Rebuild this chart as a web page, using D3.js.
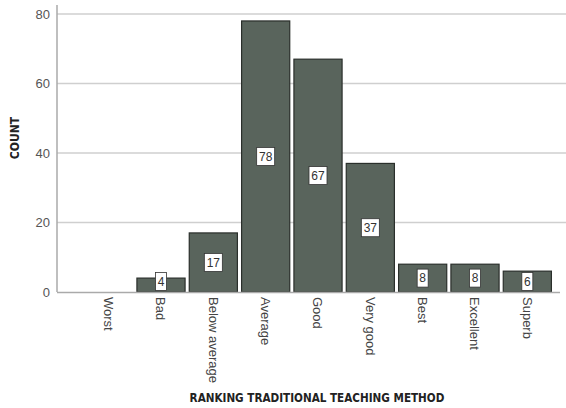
<!DOCTYPE html>
<html><head><meta charset="utf-8">
<script src="https://cdn.jsdelivr.net/npm/d3@7"></script>
<style>body{margin:0;background:#fff}svg{display:block}</style>
</head><body>
<svg id="c" width="566" height="408"></svg>
<script>
const categories = ["Worst","Bad","Below average","Average","Good","Very good","Best","Excellent","Superb"];
const counts = [0,4,17,78,67,37,8,8,6];
const yTicks = [0,20,40,60,80];

const svg = d3.select("#c");
const x = d3.scaleBand().domain(categories).range([82.5,553.5]).paddingInner(0.08).paddingOuter(0.04);
const y = d3.scaleLinear().domain([0,80]).range([292,14]);

// grid
svg.append("g").selectAll("line").data(yTicks.filter(d=>d>0)).join("line")
  .attr("x1",57).attr("x2",566).attr("y1",d=>y(d)).attr("y2",d=>y(d))
  .attr("stroke","#cfcfcf").attr("stroke-width",1.5);

// y axis
const ya = svg.append("g").attr("transform","translate(57,0)").call(d3.axisLeft(y).tickValues(yTicks).tickSize(0).tickPadding(7));
ya.select(".domain").attr("stroke","#aaa").attr("stroke-width",1.5).attr("d","M0,5V292");
ya.selectAll("text").attr("font-family","Arial, Liberation Sans, sans-serif").attr("font-size",13).attr("fill","#555");

// bars
svg.append("g").selectAll("rect").data(counts).join("rect")
  .attr("x",(d,i)=>x(categories[i])).attr("width",x.bandwidth())
  .attr("y",d=>y(d)).attr("height",d=>y(0)-y(d))
  .attr("fill","#59645c").attr("stroke","#2a2f2b").attr("stroke-width",1.2)
  .attr("display",d=>d>0?null:"none");

// x baseline
svg.append("line").attr("x1",57).attr("x2",560).attr("y1",292.5).attr("y2",292.5).attr("stroke","#aaa").attr("stroke-width",1.5);

// value labels
const lab = svg.append("g").selectAll("g").data(counts.map((v,i)=>({v,c:categories[i]})).filter(d=>d.v>0)).join("g")
  .attr("transform",d=>`translate(${x(d.c)+x.bandwidth()/2},${Math.min((y(d.v)+y(0))/2, y(0)-10.5)})`);
lab.append("rect").attr("x",d=>d.v>=10?-9:-5.5).attr("width",d=>d.v>=10?18:11)
  .attr("y",-9).attr("height",18).attr("fill","#fff").attr("stroke","#333").attr("stroke-width",0.8);
lab.append("text").attr("text-anchor","middle").attr("dy","0.36em")
  .attr("font-family","Arial, Liberation Sans, sans-serif").attr("font-size",12).attr("fill","#333").text(d=>d.v);

// x category labels
const xa = svg.append("g").attr("transform","translate(0,292)").call(d3.axisBottom(x).tickSize(0).tickPadding(0));
xa.select(".domain").remove();
xa.selectAll("text").attr("transform","rotate(90)").attr("text-anchor","start")
  .attr("x",5).attr("y",0).attr("dy","0.35em")
  .attr("font-family","Arial, Liberation Sans, sans-serif").attr("font-size",13).attr("fill","#444");

// titles
svg.append("text").attr("x",317).attr("y",402).attr("text-anchor","middle")
  .attr("font-family","DejaVu Sans Condensed, DejaVu Sans, sans-serif").attr("font-weight","bold").attr("font-size",11.6).attr("fill","#222")
  .text("RANKING TRADITIONAL TEACHING METHOD");
svg.append("text").attr("transform","translate(19,138) rotate(-90)").attr("text-anchor","middle")
  .attr("font-family","DejaVu Sans Condensed, DejaVu Sans, sans-serif").attr("font-weight","bold").attr("font-size",12).attr("fill","#222")
  .text("COUNT");
</script>
</body></html>
